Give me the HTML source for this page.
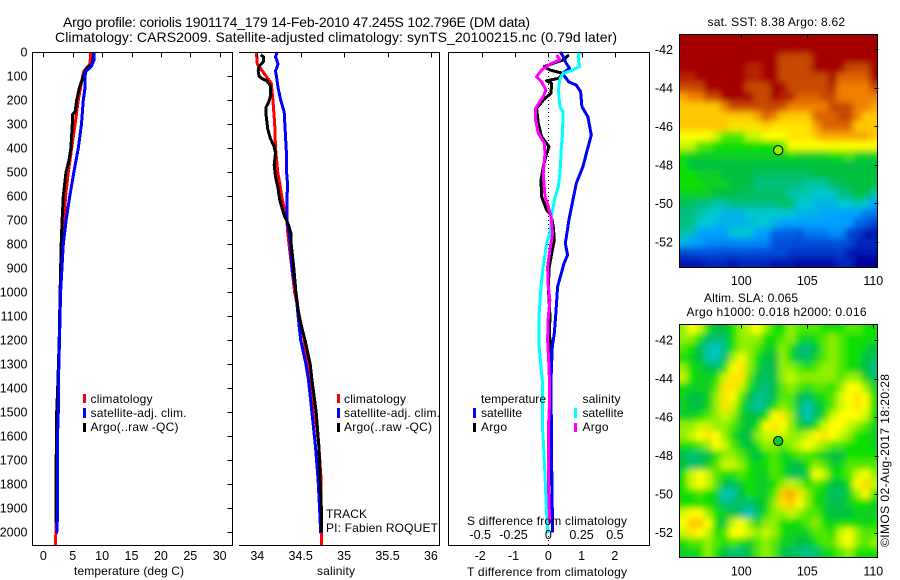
<!DOCTYPE html>
<html lang="en">
<head>
<meta charset="utf-8">
<title>Argo profile 1901174_179</title>
<style>
html,body{margin:0;padding:0;background:#fff;}
svg{display:block;font-family:"Liberation Sans",sans-serif;fill:#000;}
text{font-size:12px;fill:#000;}
.big{font-size:14px;}
.tick{font-size:12.5px;}
</style>
</head>
<body>
<svg id="chart" xmlns="http://www.w3.org/2000/svg" width="900" height="580" viewBox="0 0 900 580">
<defs>
<clipPath id="clip-sst"><rect x="679" y="34" width="199" height="233"/></clipPath>
<clipPath id="clip-sla"><rect x="679" y="324" width="199" height="233"/></clipPath>
<filter id="soft" filterUnits="userSpaceOnUse" x="660" y="10" width="240" height="570"><feGaussianBlur stdDeviation="3.2"/></filter>
</defs>
<text class="big" x="63" y="27" textLength="467">Argo profile: coriolis 1901174_179 14-Feb-2010 47.245S 102.796E (DM data)</text>
<text class="big" x="55" y="42" textLength="562">Climatology: CARS2009. Satellite-adjusted climatology: synTS_20100215.nc (0.79d later)</text>
<g id="layer-sst" clip-path="url(#clip-sst)"><g id="cells-sst" filter="url(#soft)"></g></g>
<g id="layer-sla" clip-path="url(#clip-sla)"><g id="cells-sla" filter="url(#soft)"></g></g>
<g id="panel-t"></g>
<g id="panel-s"></g>
<g id="panel-d"></g>
<g id="axes" fill="none" stroke="#000" stroke-width="1" shape-rendering="crispEdges">
<path d="M32.5 52.5H232.5V545.5H32.5Z"/>
<path d="M239 52.5H439.5V545.5H239"/>
<path d="M448.5 52.5H649.5V545.5H448.5Z"/>
<path d="M679.5 34.5H877.5V267.5H679.5Z"/>
<path d="M679.5 324.5H877.5V557.5H679.5Z"/>
</g>
<g id="ticks" stroke="#000" stroke-width="1" shape-rendering="crispEdges"></g>
<g id="labels"></g>

<text x="74" y="575" textLength="110">temperature (deg C)</text>
<text x="317" y="575" textLength="38">salinity</text>
<text x="467" y="576" textLength="160">T difference from climatology</text>
<text x="467" y="525" textLength="160">S difference from climatology</text>

<g>
<rect x="83" y="394" width="3" height="9" fill="#f00"/>
<rect x="83" y="408" width="3" height="10" fill="#00f"/>
<rect x="83" y="423" width="3" height="9" fill="#000"/>
<text x="90.5" y="403" textLength="62">climatology</text>
<text x="90.5" y="417" textLength="96">satellite-adj. clim.</text>
<text x="90.5" y="431" textLength="88">Argo(..raw -QC)</text>
</g>
<g>
<rect x="337" y="394" width="3" height="9" fill="#f00"/>
<rect x="337" y="408" width="3" height="10" fill="#00f"/>
<rect x="337" y="423" width="3" height="9" fill="#000"/>
<text x="344" y="403" textLength="62">climatology</text>
<text x="344" y="417" textLength="96">satellite-adj. clim.</text>
<text x="344" y="431" textLength="88">Argo(..raw -QC)</text>
<text x="326" y="518" textLength="41">TRACK</text>
<text x="326" y="532" textLength="112">PI: Fabien ROQUET</text>
</g>
<g>
<text x="481" y="403" textLength="65">temperature</text>
<text x="582.5" y="403" textLength="38">salinity</text>
<rect x="473" y="408" width="3" height="10" fill="#00f"/>
<rect x="473" y="423" width="3" height="9" fill="#000"/>
<rect x="574" y="408" width="3" height="10" fill="#0ff"/>
<rect x="574" y="423" width="3" height="9" fill="#f0f"/>
<text x="481" y="417" textLength="41">satellite</text>
<text x="481" y="431" textLength="26">Argo</text>
<text x="582.5" y="417" textLength="41">satellite</text>
<text x="582.5" y="431" textLength="26">Argo</text>
</g>

<text x="707.5" y="26" textLength="137.5">sat. SST: 8.38 Argo: 8.62</text>
<text x="704" y="302" textLength="94">Altim. SLA: 0.065</text>
<text x="686.5" y="316" textLength="180">Argo h1000: 0.018 h2000: 0.016</text>
<text transform="translate(889 547) rotate(-90)" textLength="173">©IMOS 02-Aug-2017 18:20:28</text>
<g id="markers"></g>
</svg>
<script>
/* ---------- temperature panel data ---------- */
const tClimDepth = [0,50,80,100,200,300,400,500,600,800,1000,1200,1400,1500,1600,1800,2000,2055];
const tClimValue = [8.06,7.94,6.9,6.7,5.96,5.4,4.83,4.25,3.8,3.3,2.95,2.75,2.5,2.28,2.3,2.2,2.12,2.1];
const tArgoDepth = [0,30,50,70,100,150,200,250,260,300,400,450,500,600,700,800,1000,1200,1400,1500,1700,1750,1960];
const tArgoValue = [8.7,8.4,8.3,7.26,6.8,6.12,5.68,5.4,5.0,4.93,4.7,4.37,3.86,3.4,3.2,3.05,2.85,2.7,2.45,2.28,2.2,2.16,2.16];
const tSatDepth = [0,30,60,80,100,150,200,300,400,500,600,700,800,1000,1200,1400,1500,1600,1800,1955,2005];
const tSatValue = [8.5,8.67,8.2,7.26,7.1,7.1,6.8,6.5,5.96,5.2,4.5,3.9,3.4,2.95,2.75,2.55,2.55,2.42,2.42,2.38,2.28];
const tTicks = [0,5,10,15,20,25,30];
const depthTicks = [0,100,200,300,400,500,600,700,800,900,1000,1100,1200,1300,1400,1500,1600,1700,1800,1900,2000];

/* ---------- salinity panel data ---------- */
const sClimDepth = [0,50,70,100,130,200,300,400,500,550,600,650,700,750,800,1000,1200,1300,1367,1505,1644,1783,2055];
const sClimValue = [33.99,34.0,34.04,34.1,34.16,34.18,34.2,34.21,34.235,34.26,34.28,34.31,34.34,34.35,34.365,34.43,34.54,34.58,34.62,34.665,34.71,34.735,34.74];
const sArgoDepth = [12,20,40,60,80,100,110,120,140,180,210,230,260,320,360,390,420,470,520,560,620,680,720,760,800,900,1000,1100,1200,1300,1367,1505,1644,1783,1922,2000];
const sArgoValue = [34.04,34.07,34.07,34.02,34.01,34.02,34.05,34.11,34.15,34.155,34.13,34.1,34.1,34.12,34.15,34.19,34.21,34.195,34.21,34.235,34.26,34.31,34.36,34.39,34.39,34.42,34.445,34.48,34.55,34.61,34.63,34.68,34.71,34.725,34.74,34.74];
const sSatDepth = [0,20,50,80,100,150,200,250,320,420,520,550,620,700,750,800,900,1000,1100,1200,1300,1367,1505,1644,1783,1922,2005];
const sSatValue = [34.23,34.21,34.24,34.21,34.22,34.24,34.27,34.31,34.32,34.335,34.34,34.35,34.34,34.34,34.365,34.38,34.40,34.445,34.47,34.50,34.56,34.59,34.63,34.67,34.70,34.72,34.73];
const sTicks = [34,34.5,35,35.5,36];

/* ---------- difference panel data ---------- */
const dTSatDepth = [0,12,47,68,82,96,110,124,138,165,228,270,346,408,478,547,617,700,756,797,846,881,978,1103,1172,1228,1367,1700,2003];
const dTSatValue = [0.35,0.42,0.54,0.64,0.5,0.45,0.54,0.61,0.84,0.97,1.01,1.19,1.29,1.17,1.04,0.84,0.74,0.62,0.56,0.51,0.58,0.47,0.28,0.22,0.18,0.12,0.08,0.1,0.13];
const dTArgoDepth = [12,33,47,61,75,89,110,120,130,172,200,235,297,353,394,422,478,533,603,658,679,728,783,825,895,978,1103,1172,1242,1367,1800,1811,1853,1870,1960];
const dTArgoValue = [0.62,0.45,0.15,-0.12,0.05,0.45,0.3,-0.05,0.1,0.08,-0.15,-0.35,-0.3,-0.2,0.02,-0.05,-0.15,-0.22,-0.2,-0.05,0.08,0.15,0.18,0.12,0.03,0,0.05,0.03,0.08,0.08,0.05,-0.05,-0.05,0.05,0.05];
const dSSatDepth = [0,12,33,61,75,89,110,158,228,249,353,380,506,561,617,686,756,797,895,978,1089,1228,1311,1367,1548,1645,1728,1853,1964,2006];
const dSSatValue = [0.25,0.225,0.225,0.235,0.185,0.112,0.088,0.075,0.088,0.112,0.105,0.1,0.088,0.075,0.045,0.025,0.012,-0.012,-0.038,-0.055,-0.068,-0.068,-0.055,-0.045,-0.045,-0.035,-0.028,-0.018,-0.008,-0.005];
const dSArgoDepth = [12,33,47,75,103,124,158,186,235,283,339,380,422,506,603,644,686,756,825,895,978,1034,1103,1200,1311,1367,1478,1575,1784,1922,1964];
const dSArgoValue = [0.062,0.088,0.025,-0.05,-0.088,-0.05,-0.018,-0.038,-0.095,-0.095,-0.075,-0.03,-0.025,-0.038,-0.025,0,0.02,0.032,0.012,-0.005,0,0.012,0,-0.005,0.005,0.008,0.008,0,0,0.008,0.008];
const dTTicks = [-2,-1,0,1,2];
const dSTicks = [-0.5,-0.25,0,0.25,0.5];

/* ---------- map data (colour-index cells, north to south) ---------- */
const mapLonTicks = [100,105,110];
const mapLatTicks = [-42,-44,-46,-48,-50,-52];
const floatLon = 102.796;
const floatLat = -47.245;
const floatSst = 7;
const floatSla = 5.4;
const sstGrid = [
[12,12,12,12,12,12,12,12,12,12,12,12,12,12,12,12,12,12,12,12,12,12,12,12],
[12,12,12,12,12,12,12,12,12,12,12,12,12,12,12,12,12,12,12,12,12,12,12,12],
[12,12,12,12,12,12,12,12,12,12,12,12,11,11,11,11,12,12,12,12,12,12,12,12],
[12,12,12,12,12,12,12,12,11.5,11.5,12,12,11,11,11,11,12,12,12,12,11,11,11,12],
[11.5,11.5,12,12,12,12,12,12,11.5,11.5,12,12,11,11,11,11,11,11,12,10.5,10.5,10.5,10.5,12],
[11,11,11,12,12,12,12,12,11,11,11,12,12,11,11,11,11,11,11.5,10,10,10,10,11],
[9.5,10,10,11,11,12,12,12,12,11,11,12,11.5,11.5,10.5,10.5,10.5,11,11,10,10,10,10,10],
[9,9,9,9,9,10,11,11,11,11,11,11,11,10,10,10,10,10,11,11,11,10,10,9.5],
[9,9,9,9,9,9,9,9,9,9.5,10.5,10,9,9,9,9,10.5,10.5,10.5,11,11,10,9,9],
[9,9,9,9,9,9,8.5,8.5,8.5,8.5,9,8.5,8.5,8.5,8.5,8.5,9.5,10.5,10.5,10.5,10.5,9,9,9],
[8,8,8,8,7.5,6.5,6.5,6.5,7.5,7.5,8,8,8,8.5,8.5,8.5,9,9.5,9.5,9.5,9.5,9.5,9.5,9],
[7.5,7.5,6.5,6.5,6,6,6,6,6,6,6,6,6.5,8,8,8,8,8,8,8,8,8,8,8],
[6,5.5,5.5,5.5,5.5,5.5,5.5,5.5,5.5,5.5,5.5,5.5,5.5,6,5.5,5.5,5.5,5.5,6,6,6.5,5.5,5.5,5.5],
[6,5,5,5,5,5,5,5,5,5,5,5,5,5,5,5,5,5,5,5,5,5,5,5],
[6,6,5.5,5.5,5.5,5,5,5,5,4.5,4.5,4.5,4.5,4.5,4.5,4.5,5,5,5,5,5,5,5,5],
[6,6,6,5.5,5.5,5.5,5,5,5,4,4,4,4,4,4,3.5,3.5,3.5,4.5,4.5,5,5,5,5],
[5.5,5.5,5.5,5.5,5,5,5,4.5,4.5,4.5,4.5,4.5,4.5,3.5,3.5,3.5,3,3,3,4,4,5,5,3.5],
[4.5,4.5,4,4,3.5,3.5,4,4,4,4,4,4,4.5,4.5,3,3,2.5,2.5,2.5,3,3,3.5,3,2],
[4,4,3.5,3,3,2.5,2.5,2.5,3,3,3,3,3,3,2.5,2.5,2.5,2.2,2.2,2,2,2,1.5,1.5],
[4,4,3,3,2.5,2.5,2.5,2.5,2.5,3,3,2.5,2,2,2,2,2,2,2,2,2,1.2,1.2,0.8],
[3.5,3.5,2,2,2,2,3,3,3,2,2,1.2,1.2,1.2,1,1.5,1.5,1.5,1.8,1.8,0.8,0.8,0.3,0.3],
[2.5,2,2,1.7,1.7,1.7,1.7,1.7,1.7,1.7,1.7,1,1,1,1,1,1,1,1,1,1,0.5,0.5,0.5],
[0.8,1,1,1,1,1,1,1,1,1,1,1,1,0.7,0.7,0.7,0.7,0.7,0.7,0.8,0.3,0.3,0.3,0.3],
[0.3,0.3,0.3,0.5,0.5,0.5,0.2,0.5,0.5,0.5,0.5,0.3,0.3,0.3,0.2,0.2,0.2,0.2,0.2,0.5,0.5,0,0,0]
];
const slaGrid = [
[7,8,7.5,6,5,5,6,7,7.5,8,7,6,6,7,6.5,6.5,6.5,6,6,6,6.5,6.5,6,6],
[7,7,6,4.5,4,4.5,6,7,7,7,6,6,6.5,7,6,5.5,6,6.5,7,6.5,6,6,6,6],
[6.5,6,5,3.5,3,4,6,7,7,6.5,5.5,5.5,7,6,4.5,4,5,6.5,7,6.5,6,6,5.5,5],
[6,5.5,5,3.5,3.3,4.5,7,8,7,6,5,5,7,6,4.5,4.5,5.5,6.5,7,6.5,6,6,5,4.5],
[7,6,5.5,5,4.5,6,8,8.5,7,5.5,4.5,5,7,7,6.5,6,6.5,7,7,6.5,6,5.5,5,4],
[7.5,6,5.5,5.5,6,7.5,8.5,8.5,6.5,5,4.3,5,7,7.5,7,7,7,7,7,6.5,7,7,5.5,4.5],
[6,5.5,5.5,5.5,6.5,8.5,8.5,7.5,6,4.5,4,5,6.5,7,6.5,6,6.5,6.5,6,7,8,8,7,5.5],
[5.5,5,5,5.5,7,8.5,8,6.5,5,3.8,4,5,6.5,6.5,5,4.5,5.5,6,6.5,7.5,8,8.5,8,6],
[5.5,5,5,5.5,7,8.5,7.5,6,4.5,3.5,4.5,6,7,6.5,4.5,3.3,4.5,5.5,6.5,7.5,8,8.5,8,6],
[5.5,5.5,6,6.5,7,7.5,7,5.5,5,5,6,8,8.5,7,4.5,3.3,4.5,6,7.5,8,8,8,7.5,6],
[7,7,7.5,7.5,7,7,6.5,5.5,5,6,8,8.5,8,7,5.5,5,6,7.5,8,8,7.5,7,6.5,5.5],
[7,7.5,8,8.5,8,7,6,5,5,7,7.5,7.5,7.5,7,7,7.5,8,8.5,8,7.5,7,6,6,5.5],
[6,6,6.5,7,8,7.5,6.5,5.5,5,6,7,7,6.5,7,7.5,8,7.5,7,6.5,6.5,6,6,6,5.5],
[5,4.2,4.3,5,6,7,7,6.5,5.5,5,6,6.5,5.5,6,6.5,6.5,6,5.5,5,5,6,6,6,6],
[5,4.2,4.5,5.5,6.5,7.5,7.5,7,6,5.5,6,6.5,6,5,5,6,7,6.5,5.5,5.5,6.5,6.5,6.5,6.5],
[6,7.5,8,7.5,6.5,6,6,6.5,6,5.5,5.5,6.5,6,4.8,4.5,5.5,8,7.5,6,6,6.5,7.5,8,7],
[6,7.5,8,7.5,6.5,5,4.5,5.5,6,5.5,5.5,6,7,7.5,7,6,6.5,6,5,5,6,8,8.8,7.5],
[6,6,6.5,6,5.5,3.3,3.5,5,6,5.5,5.5,6.5,9,9.5,8.5,7,6,5.5,4.5,4.5,5.5,7,8,6.5],
[6,6,6,6,5.5,4,4.2,4.5,4,5,5.5,7,8.5,9,8,7,6,5.5,4.8,4.8,5.5,6,6,5.5],
[7.5,8,8,7,6,5.5,5,4,3.2,4.5,6,7,7,7.5,7,6.5,6.5,5.5,5,5,5,5.5,5.5,5.5],
[8,9,9,8,6,5,7.5,8,7,5.5,7,7,6,6,6,6.5,7,6,5.5,6,6,6,5.5,6],
[7.5,8.5,8,7.5,6,6.5,8,8,7.5,7,7.5,7,6,5.5,5.5,5.5,6.5,6.5,6,7.5,8,7,6.5,6.5],
[6,6.5,6.5,7,6.5,6,6.5,6,5.5,6.5,7,6.5,5.5,5.5,5,5,6,6.5,6.5,7.5,8,7,6.5,7],
[5.5,5.5,6,7,6,5,4.2,4.2,5,6.5,7,6.5,5,4.5,4.2,3.8,4.2,5.5,6,6.5,7,6,6,6]
];

const NS = 'http://www.w3.org/2000/svg';
const colorStops = ['#00009b','#0050dc','#00a0ff','#00c8d0','#00c080','#00c040','#10e000','#90f000','#ffff00','#ffc800','#f08000','#c84800','#a50000'];

/* axis functions */
function xTemp(v){return 43.3+5.88*v;}
function xSal(v){return 257.3+86.8*(v-34);}
function xTDiff(v){return 548.3+33.3*v;}
function xSDiff(v){return 548.3+133.2*v;}
function yDepth(d){return 52+0.24*d;}
function xLon(lon){return 741.3+13.2*(lon-100);}
function ySstLat(lat){return 49.3+19.25*(-42-lat);}
function ySlaLat(lat){return 340+19.25*(-42-lat);}

function colorOf(v){
  const c=Math.max(0,Math.min(colorStops.length-1.001,v));
  const i=Math.floor(c),f=c-i;
  const a=colorStops[i],b=colorStops[i+1];
  let out='rgb(';
  for(let k=0;k<3;k++){
    const p=parseInt(a.substr(1+2*k,2),16),q=parseInt(b.substr(1+2*k,2),16);
    out+=Math.round(p+(q-p)*f)+(k<2?',':')');
  }
  return out;
}

function drawLine(parent,depths,values,xFn,color,name){
  const el=document.createElementNS(NS,'polyline');
  
  
  el.setAttribute('points',depths.map((d,i)=>xFn(values[i]).toFixed(1)+','+yDepth(d).toFixed(1)).join(' '));
  el.setAttribute('fill','none');
  el.setAttribute('stroke',color);
  el.setAttribute('stroke-width','3');
  el.setAttribute('stroke-linejoin','round');
  el.setAttribute('shape-rendering','crispEdges');
  parent.appendChild(el);
}

function addTick(x1,y1,x2,y2,name){
  const el=document.createElementNS(NS,'line');
  
  
  el.setAttribute('x1',Math.round(x1)+0.5);
  el.setAttribute('x2',Math.round(x2)+0.5);
  el.setAttribute('y1',Math.round(y1)+0.5);
  el.setAttribute('y2',Math.round(y2)+0.5);
  document.getElementById('ticks').appendChild(el);
}

function addLabel(x,y,str,anchor,name){
  const el=document.createElementNS(NS,'text');
  
  
  el.setAttribute('class','tick');
  el.setAttribute('x',x);
  el.setAttribute('y',y);
  el.setAttribute('text-anchor',anchor);
  el.textContent=str;
  document.getElementById('labels').appendChild(el);
}

function drawHeatmap(groupId,grid,left,top,width,height){
  const g=document.getElementById(groupId);
  const rows=grid.length,cols=grid[0].length;
  const cw=width/cols,ch=height/rows;
  grid.forEach((row,r)=>row.forEach((v,c)=>{
    const el=document.createElementNS(NS,'rect');
    
    
    const padL=c===0?10:0,padR=c===cols-1?10:0.5,padT=r===0?10:0,padB=r===rows-1?10:0.5;
    el.setAttribute('x',left+c*cw-padL);
    el.setAttribute('y',top+r*ch-padT);
    el.setAttribute('width',cw+padL+padR);
    el.setAttribute('height',ch+padT+padB);
    el.setAttribute('fill',colorOf(v));
    g.appendChild(el);
  }));
}

function addMarker(x,y,v,name){
  const el=document.createElementNS(NS,'circle');
  
  
  el.setAttribute('cx',x);
  el.setAttribute('cy',y);
  el.setAttribute('r',4.6);
  el.setAttribute('fill',colorOf(v));
  el.setAttribute('stroke','#000');
  el.setAttribute('stroke-width','1');
  document.getElementById('markers').appendChild(el);
}

/* heatmaps */
drawHeatmap('cells-sst',sstGrid,679,34,199,233);
drawHeatmap('cells-sla',slaGrid,679,324,199,233);

/* temperature panel */
const pT=document.getElementById('panel-t');
drawLine(pT,tClimDepth,tClimValue,xTemp,'#f00','t-climatology-line');
drawLine(pT,tArgoDepth,tArgoValue,xTemp,'#000','t-argo-line');
drawLine(pT,tSatDepth,tSatValue,xTemp,'#00f','t-satellite-line');

/* salinity panel */
const pS=document.getElementById('panel-s');
drawLine(pS,sClimDepth,sClimValue,xSal,'#f00','s-climatology-line');
drawLine(pS,sSatDepth,sSatValue,xSal,'#00f','s-satellite-line');
drawLine(pS,sArgoDepth,sArgoValue,xSal,'#000','s-argo-line');

/* difference panel */
const pD=document.getElementById('panel-d');
const zeroLine=document.createElementNS(NS,'line');


zeroLine.setAttribute('x1',xTDiff(0));
zeroLine.setAttribute('x2',xTDiff(0));
zeroLine.setAttribute('y1',52);
zeroLine.setAttribute('y2',545);
zeroLine.setAttribute('stroke','#000');
zeroLine.setAttribute('stroke-width','1');
zeroLine.setAttribute('stroke-dasharray','1 3');
zeroLine.setAttribute('shape-rendering','crispEdges');
pD.appendChild(zeroLine);
drawLine(pD,dTArgoDepth,dTArgoValue,xTDiff,'#000','t-difference-argo-line');
drawLine(pD,dTSatDepth,dTSatValue,xTDiff,'#00f','t-difference-satellite-line');
drawLine(pD,dSSatDepth,dSSatValue,xSDiff,'#0ff','s-difference-satellite-line');
drawLine(pD,dSArgoDepth,dSArgoValue,xSDiff,'#f0f','s-difference-argo-line');

/* ticks and tick labels */
depthTicks.forEach(d=>{
  addTick(227,yDepth(d),232,yDepth(d),'depth-tick');
  addLabel(27.5,yDepth(d)+4.5,String(d),'end','depth-tick-label');
});
tTicks.forEach(v=>{
  addTick(xTemp(v),52,xTemp(v),57,'temperature-tick');
  addLabel(xTemp(v),560,String(v),'middle','temperature-tick-label');
});
sTicks.forEach(v=>{
  addTick(xSal(v),52,xSal(v),57,'salinity-tick');
  addLabel(xSal(v),560,String(v),'middle','salinity-tick-label');
});
dTTicks.forEach(v=>{
  addTick(xTDiff(v),52,xTDiff(v),57,'t-difference-tick');
  addLabel(xTDiff(v)-(v<0?1.5:0),560,String(v),'middle','t-difference-tick-label');
});
dSTicks.forEach(v=>{
  addLabel(xSDiff(v)-(v<0?1.5:0),539,String(v),'middle','s-difference-tick-label');
});
mapLonTicks.forEach(v=>{
  addTick(xLon(v),34,xLon(v),38,'sst-lon-tick');
  addTick(xLon(v),324,xLon(v),328,'sla-lon-tick');
  addLabel(xLon(v),285,String(v),'middle','sst-lon-label');
  addLabel(xLon(v),575.5,String(v),'middle','sla-lon-label');
});
mapLatTicks.forEach(v=>{
  addTick(874,ySstLat(v),878,ySstLat(v),'sst-lat-tick');
  addTick(874,ySlaLat(v),878,ySlaLat(v),'sla-lat-tick');
  addLabel(673,ySstLat(v)+4.5,String(v),'end','sst-lat-label');
  addLabel(673,ySlaLat(v)+4.5,String(v),'end','sla-lat-label');
});

/* float position */
addMarker(xLon(floatLon),ySstLat(floatLat),floatSst,'sst-float-marker');
addMarker(xLon(floatLon),ySlaLat(floatLat),floatSla,'sla-float-marker');
</script>
</body>
</html>
